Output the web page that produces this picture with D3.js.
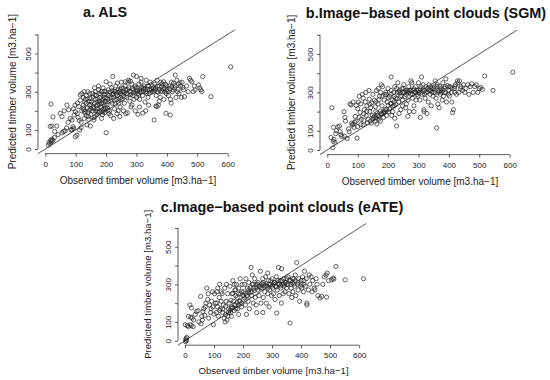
<!DOCTYPE html>
<html>
<head>
<meta charset="utf-8">
<script src="https://cdn.jsdelivr.net/npm/d3@7"></script>
<style>
  body { margin: 0; background: #fff; }
  text { font-family: 'Liberation Sans', Arial, sans-serif; fill: #222; }
</style>
</head>
<body>
<div id="chart"></div>
<script>
const alsData = [
  [10,20],[12,35],[15,28],[18,45],[20,38],[22,52],[25,45],[19,235],[25,168],[16,118],[22,120],[31,92],[38,120],[30,60],[42,75],
  [55,85],[60,92],[49,187],[55,170],[62,200],[71,230],[77,205],[70,110],[88,103],[91,117],[93,108],[99,65],[104,72],[95,178],[99,195],[82,160],[88,152],[75,140],[85,100],[65,95],[98,230],[92,210],
  [106,240],[110,222],[115,283],[115,255],[120,290],[125,270],[126,205],[131,188],[137,126],[105,185],[108,165],[112,150],[118,140],[120,200],[125,230],[130,245],[132,260],[135,280],[138,215],[140,190],[142,170],[145,230],[145,250],[148,265],[150,210],[148,120],[128,300],[140,300],[135,175],[143,155],[113,100],[118,112],[128,160],[150,180],[146,290],
  [135,238],[140,262],[145,203],[150,232],[125,214],[130,197],
  [155,200],[158,220],[160,165],[162,240],[165,260],[165,300],[168,280],[170,210],[172,230],[175,310],[175,190],[178,250],[180,270],[182,220],[185,300],[185,240],[188,180],[190,260],[190,320],[192,210],[195,285],[196,230],[198,250],[200,300],[200,85],[200,352],[160,152],[164,170],[170,180],[180,195],[155,290],[162,320],[175,330],[188,205],[195,190],[198,215],[185,160],[170,245],[193,270],[178,290],
  [152,246],[157,272],[163,284],[168,226],[173,262],[177,236],[183,287],[187,252],[191,242],[194,302],[199,268],[160,212],[166,199],[172,196],[185,216],[190,194],
  [203,230],[205,260],[207,310],[210,280],[212,200],[215,250],[218,320],[220,240],[222,380],[224,290],[225,270],[228,210],[230,300],[232,330],[235,260],[236,185],[238,280],[240,310],[242,240],[245,300],[246,220],[248,270],[250,320],[250,350],[210,185],[215,175],[225,160],[240,200],[245,170],[205,215],[230,235],[220,305],[248,290],[237,345],[213,340],
  [204,286],[208,251],[213,298],[217,272],[221,284],[226,303],[229,258],[233,287],[239,296],[243,264],[247,312],[206,202],
  [252,260],[255,300],[258,280],[260,240],[262,330],[265,310],[268,270],[270,290],[272,350],[275,320],[278,250],[280,300],[282,220],[285,340],[288,280],[290,310],[290,387],[292,260],[295,330],[296,200],[298,300],[300,380],[263,352],[274,360],[257,200],[285,230],[270,190],[300,270],[265,185],[280,355],
  [253,286],[256,318],[261,296],[266,289],[271,311],[276,302],[281,284],[286,316],[291,294],[297,321],
  [302,320],[305,290],[305,181],[308,340],[310,260],[312,310],[315,350],[318,300],[320,280],[321,188],[322,320],[325,330],[328,246],[330,300],[332,360],[335,310],[338,270],[340,330],[342,290],[345,350],[348,310],[310,220],[340,230],[330,200],[315,370],
  [303,306],[307,281],[313,296],[317,322],[323,301],[327,314],[333,291],[337,331],[343,309],[347,296],
  [352,300],[355,320],[356,318],[358,152],[360,340],[361,309],[364,225],[365,280],[367,222],[368,360],[370,300],[372,230],[375,330],[378,270],[380,350],[383,326],[385,300],[389,352],[390,260],[392,320],[395,340],[397,187],[398,290],[400,310],[375,250],
  [353,331],[357,302],[363,316],[369,329],[374,311],[379,301],[384,341],[388,312],[394,299],[399,331],
  [405,280],[408,330],[411,178],[412,260],[415,350],[418,300],[422,344],[425,320],[428,387],[430,270],[433,360],[435,300],[438,340],[440,290],[445,330],[448,270],[450,350],[455,310],[458,274],[414,240],
  [403,301],[409,316],[416,326],[421,309],[427,331],[437,312],[443,346],[452,322],
  [465,330],[470,300],[474,370],[478,360],[482,352],[487,300],[490,330],[493,309],[504,335],[508,320],[512,310],[515,300],[518,379],[545,274],[610,430]
];

const sgmData = [
  [15,220],[18,12],[20,45],[22,55],[25,40],[12,65],[28,85],[30,100],[35,120],[40,125],[42,95],[20,118],[45,80],[48,70],
  [55,200],[58,170],[60,150],[56,72],[65,60],[70,110],[75,240],[78,235],[80,140],[82,130],[85,135],[88,118],[90,145],[95,150],[98,62],[100,215],[92,175],[72,95],[85,250],[95,232],
  [102,250],[105,280],[108,195],[110,240],[112,160],[115,290],[118,270],[120,155],[122,210],[125,250],[128,180],[130,230],[132,140],[135,160],[138,265],[140,200],[142,150],[145,140],[146,245],[148,180],[150,290],[127,300],[118,130],[105,170],[137,310],[143,220],
  [130,202],[120,188],[140,238],[110,132],[100,122],
  [152,170],[155,260],[157,150],[160,200],[162,310],[165,180],[167,240],[170,160],[172,280],[175,300],[177,190],[180,230],[182,330],[185,170],[187,260],[190,210],[192,300],[195,180],[197,250],[200,320],[163,135],[175,150],[185,200],[195,290],[178,340],[168,320],[158,225],
  [150,162],[155,176],[160,166],[165,192],[170,174],[175,203],[180,186],[185,191],[190,198],[195,212],[160,252],[170,262],[180,281],[190,288],
  [202,200],[205,280],[208,240],[210,310],[212,180],[215,260],[218,300],[220,230],[222,330],[225,270],[228,125],[230,300],[232,350],[235,250],[237,310],[240,280],[242,210],[245,320],[247,260],[250,300],[210,380],[222,165],[236,190],[248,230],[215,200],[228,320],
  [200,232],[205,214],[210,242],[215,228],[220,252],[225,238],[200,271],[210,291],[220,279],[230,268],[235,302],[240,299],[245,281],
  [252,340],[255,280],[258,310],[260,240],[262,300],[265,260],[268,330],[270,200],[272,310],[275,290],[278,350],[280,270],[282,310],[285,230],[288,300],[290,330],[292,260],[295,310],[298,280],[300,350],[265,175],[285,200],[275,360],[258,220],
  [250,321],[255,301],[260,289],[265,311],[270,299],[275,312],[280,291],[285,319],[290,302],[295,289],
  [302,300],[305,260],[308,330],[310,380],[312,290],[315,340],[318,200],[320,310],[322,270],[325,300],[328,190],[330,320],[332,250],[335,340],[338,290],[340,310],[342,230],[345,320],[348,280],[350,300],[318,210],[306,170],
  [300,311],[305,318],[310,301],[315,312],[320,291],[325,329],[330,302],[335,311],[340,328],[345,301],
  [352,330],[355,360],[358,270],[360,115],[362,340],[364,240],[366,300],[368,220],[370,310],[372,290],[375,320],[378,260],[380,350],[382,280],[385,300],[388,330],[390,370],[392,250],[395,335],[398,290],[400,310],
  [350,322],[355,299],[360,331],[365,309],[370,332],[375,301],[380,311],[385,322],[390,299],[400,329],
  [402,280],[405,330],[408,300],[410,250],[412,195],[415,210],[418,320],[420,300],[422,340],[425,290],[428,360],[430,350],[432,300],[435,360],[438,320],[440,330],[445,310],[448,340],[452,300],[456,320],
  [410,322],[420,331],
  [462,340],[466,290],[470,330],[475,345],[480,300],[485,330],[490,340],[495,300],[500,320],[505,325],[510,315],[518,385],[545,310],[610,405]
];

const eateData = [
  [2,-5],[3,5],[4,12],[5,0],[6,18],[1,85],[8,80],[12,75],[18,85],[22,80],[28,75],[17,190],[22,175],[12,130],[20,125],[25,120],[30,110],[35,140],[40,155],[45,160],[48,100],
  [54,236],[55,90],[58,130],[62,155],[65,170],[70,180],[72,200],[75,280],[78,220],[80,250],[85,190],[88,150],[90,170],[95,260],[98,85],[92,210],[60,110],[68,135],[82,120],[96,180],
  [102,250],[105,200],[108,150],[110,260],[112,180],[115,130],[118,230],[120,300],[122,170],[125,210],[128,250],[130,150],[132,190],[135,120],[137,280],[140,140],[142,210],[145,110],[147,250],[150,170],[125,260],[138,100],[143,300],[113,280],[148,130],
  [140,182],[130,168],[120,161],[110,201],[100,141],
  [152,200],[155,290],[157,150],[160,180],[162,250],[165,320],[167,210],[170,160],[172,270],[175,190],[177,300],[180,230],[182,170],[185,280],[187,210],[190,330],[192,250],[195,180],[197,300],[200,220],[160,130],[175,240],[185,140],[195,260],[170,300],[158,215],
  [150,152],[155,161],[160,172],[165,176],[170,191],[175,169],[180,202],[185,189],[190,211],[195,199],[165,252],[175,271],[185,249],
  [202,260],[205,300],[208,190],[210,330],[212,240],[215,280],[218,210],[220,310],[222,170],[225,260],[228,390],[230,240],[232,300],[235,200],[237,280],[240,330],[242,230],[245,300],[247,150],[250,270],[212,140],[232,350],[245,190],[220,255],
  [200,241],[205,229],[210,252],[215,238],[220,271],[225,282],[230,259],[235,301],[240,268],[245,281],
  [252,310],[255,240],[258,290],[260,370],[262,200],[265,280],[268,330],[270,230],[272,300],[275,260],[278,340],[280,200],[282,290],[285,250],[288,320],[290,180],[292,270],[295,300],[298,240],[300,330],[268,150],[285,360],
  [250,301],[255,289],[260,281],[265,302],[270,309],[275,291],[280,302],[285,279],[290,301],[295,319],
  [302,280],[305,250],[308,310],[310,220],[312,290],[315,340],[316,147],[318,270],[320,300],[322,390],[325,240],[328,320],[330,280],[333,383],[335,300],[338,250],[340,330],[342,290],[345,260],[348,310],[350,280],[332,200],
  [300,291],[305,302],[310,309],[315,288],[320,321],[325,301],[330,292],[335,319],[340,302],[345,311],
  [352,300],[355,340],[358,250],[362,94],[364,320],[366,280],[368,230],[370,310],[372,260],[375,330],[378,290],[380,350],[382,240],[385,416],[388,300],[390,270],[392,330],[395,210],[398,290],[400,320],
  [350,331],[355,301],[360,322],[365,299],[370,331],[375,302],[380,319],[390,311],[400,301],
  [402,280],[405,340],[408,260],[410,300],[412,370],[415,290],[418,330],[420,190],[420,200],[425,270],[428,350],[430,300],[435,340],[438,260],[440,320],[445,280],[448,271],[452,330],[455,300],[458,240],
  [410,321],
  [465,227],[471,236],[475,300],[480,340],[486,350],[488,232],[490,360],[495,320],[505,325],[510,333],[513,328],[520,395],[552,324],[615,330]
];

const titles = ['a. ALS', 'b.Image\u2212based point clouds (SGM)', 'c.Image\u2212based point clouds (eATE)'];
const xTicks = [0, 100, 200, 300, 400, 500, 600];
const yTicks = [0, 100, 200, 300, 400, 500, 600];
const yTickLabels = [0, 100, 300, 500];
const xLabel = 'Observed timber volume [m3.ha\u22121]';
const yLabel = 'Predicted timber volume [m3.ha\u22121]';

// Posición de cada panel dentro de la imagen (en píxeles)
const panels = [
  { data: alsData, title: titles[0], left: 38, top: 29.8, width: 200, height: 123.8, titleX: 105, titleY: 17, xLabelY: 183.6, yLabelX: 15.5, labelSize: 10 },
  { data: sgmData, title: titles[1], left: 320, top: 30.2, width: 200, height: 124.4, titleX: 426, titleY: 17.5, xLabelY: 184.5, yLabelX: 294.5, labelSize: 10 },
  { data: eateData, title: titles[2], left: 178, top: 223.5, width: 191, height: 121.7, titleX: 282, titleY: 212, xLabelY: 373.5, yLabelX: 150.5, labelSize: 9.6 },
];

const svg = d3
  .select('#chart')
  .append('svg')
  .attr('width', 550)
  .attr('height', 380)
  .style('background', '#fff');

// Dibuja un panel: puntos, recta 1:1, ejes al estilo R y textos
const drawPanel = (p) => {
  const xScale = d3.scaleLinear().domain([-24, 634]).range([p.left, p.left + p.width]);
  const yScale = d3.scaleLinear().domain([-24, 624]).range([p.top + p.height, p.top]);
  const g = svg.append('g');

  // Recta y = x recortada al área del gráfico
  const lo = Math.max(xScale.domain()[0], yScale.domain()[0]);
  const hi = Math.min(xScale.domain()[1], yScale.domain()[1]);
  g.append('line')
    .attr('x1', xScale(lo))
    .attr('y1', yScale(lo))
    .attr('x2', xScale(hi))
    .attr('y2', yScale(hi))
    .attr('stroke', '#444')
    .attr('stroke-width', 0.9);

  // Puntos (círculos abiertos)
  g.append('g')
    .selectAll('circle')
    .data(p.data)
    .enter()
    .append('circle')
    .attr('cx', (d) => xScale(d[0]))
    .attr('cy', (d) => yScale(d[1]))
    .attr('r', 2.1)
    .attr('fill', 'none')
    .attr('stroke', '#222')
    .attr('stroke-width', 0.7);

  // Eje x
  const xAxis = g
    .append('g')
    .attr('transform', `translate(0,${p.top + p.height})`)
    .call(d3.axisBottom(xScale).tickValues(xTicks).tickSize(3).tickSizeOuter(0).tickPadding(4.4));
  xAxis.select('.domain').remove();
  xAxis.append('line')
    .attr('x1', xScale(xTicks[0]))
    .attr('x2', xScale(xTicks[xTicks.length - 1]));
  xAxis.selectAll('line').attr('stroke', '#333').attr('stroke-width', 0.8);
  xAxis.selectAll('text').attr('font-size', 8).attr('fill', '#222');
  xAxis.attr('font-family', null);

  // Eje y (etiquetas giradas como en R)
  const yAxis = g
    .append('g')
    .attr('transform', `translate(${p.left},0)`)
    .call(
      d3.axisLeft(yScale)
        .tickValues(yTicks)
        .tickSize(3)
        .tickSizeOuter(0)
        .tickFormat((d) => (yTickLabels.includes(d) ? d : ''))
    );
  yAxis.select('.domain').remove();
  yAxis.append('line')
    .attr('y1', yScale(yTicks[0]))
    .attr('y2', yScale(yTicks[yTicks.length - 1]));
  yAxis.selectAll('line').attr('stroke', '#333').attr('stroke-width', 0.8);
  yAxis.selectAll('text')
    .attr('font-size', 8)
    .attr('fill', '#222')
    .attr('x', 0)
    .attr('y', -7)
    .attr('dy', 0)
    .attr('text-anchor', 'middle')
    .attr('transform', 'rotate(-90)');
  yAxis.attr('font-family', null);

  // Títulos de los ejes
  g.append('text')
    .attr('x', (xScale.range()[0] + xScale.range()[1]) / 2)
    .attr('y', p.xLabelY)
    .attr('text-anchor', 'middle')
    .attr('font-size', p.labelSize)
    .text(xLabel);
  g.append('text')
    .attr('transform', `translate(${p.yLabelX},${(yScale.range()[0] + yScale.range()[1]) / 2}) rotate(-90)`)
    .attr('text-anchor', 'middle')
    .attr('font-size', p.labelSize)
    .text(yLabel);

  // Título del panel
  g.append('text')
    .attr('x', p.titleX)
    .attr('y', p.titleY)
    .attr('text-anchor', 'middle')
    .attr('font-size', 14.4)
    .attr('font-weight', 'bold')
    .style('fill', '#111')
    .text(p.title);
};

panels.forEach(drawPanel);
</script>
</body>
</html>
